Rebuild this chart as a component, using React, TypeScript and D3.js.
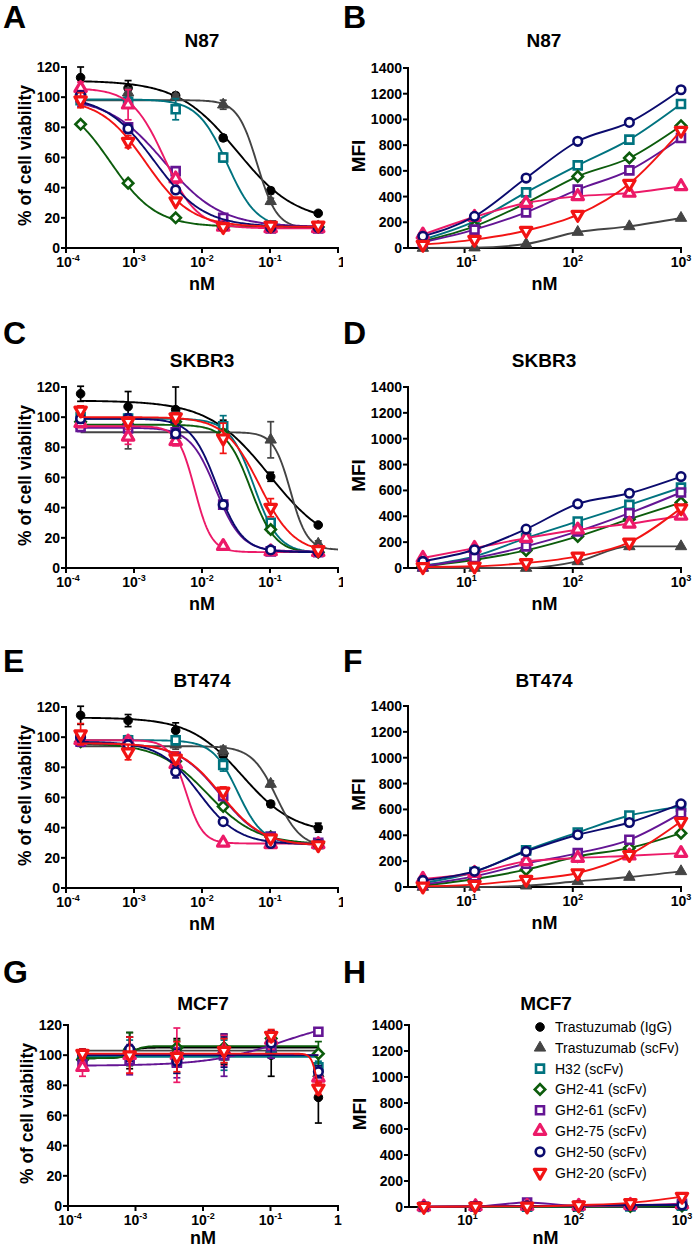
import React from "react";
import * as d3 from "d3";

// ---------------- DATA ----------------
const SERIES_NAMES = [
  "Trastuzumab (IgG)",
  "Trastuzumab (scFv)",
  "H32 (scFv)",
  "GH2-41 (scFv)",
  "GH2-61 (scFv)",
  "GH2-75 (scFv)",
  "GH2-50 (scFv)",
  "GH2-20 (scFv)",
];
const SERIES_COLORS = ["#000000", "#444444", "#00737f", "#0c5c0c", "#641594", "#ec1a68", "#0b0b6e", "#f21414"];
const SERIES_SYMBOLS = ["circleFilled", "triangleFilled", "square", "diamond", "square", "triangle", "circle", "triangleDown"];

const VIAB_CONC = [0.000164, 0.000819, 0.0041, 0.0205, 0.1024, 0.512];
const MFI_CONC = [4.115, 12.35, 37.04, 111.1, 333.3, 1000];
const VIAB_Y_TICKS = [0, 20, 40, 60, 80, 100, 120];
const MFI_Y_TICKS = [0, 200, 400, 600, 800, 1000, 1200, 1400];
const VIAB_X_TICKS = [1e-4, 1e-3, 1e-2, 1e-1, 1];
const MFI_X_TICKS = [10, 100, 1000];

// Viability means (% of cell viability), one row per series
const N87_VIAB = [
  [113, 106, 101, 73, 38, 23],
  [104, 103, 100, 95, 31, 14],
  [98, 97, 92, 60, 15, 14],
  [82, 43, 20, 14, 14, 14],
  [100, 80, 51, 20, 13, 13],
  [106, 95, 46, 14, 13, 13],
  [101, 79, 38.5, 14, 13.5, 13.5],
  [98, 70.5, 31, 14, 15, 15],
];
const N87_ERR = [
  [7, 5, 2, 2, 2, 1],
  [3, 3, 2, 3, 2, 1],
  [2, 2, 7, 3, 1, 1],
  [1, 1, 1, 1, 1, 1],
  [6, 3, 2, 1, 1, 1],
  [4, 10, 3, 1, 1, 1],
  [3, 3, 2, 1, 1, 1],
  [5, 4, 2, 1, 1, 1],
];
// fit: [start, end, ec50, hill, (xMax)]
const N87_FIT = [
  [111, 17, 0.033, 1.0],
  [98, 13, 0.065, 3],
  [98.5, 13, 0.0235, 2],
  [100, 14, 0.00045, 1.3],
  [100, 14, 0.0028, 1.05],
  [106, 13, 0.0028, 1.8],
  [101, 14, 0.002, 1.2],
  [99, 14, 0.0015, 1.3],
];

const SKBR3_VIAB = [
  [115.5, 107, 105, 93, 60.5, 28.5],
  [95, 88, 88, 90, 85, 16],
  [100, 99, 100, 94, 30, 11],
  [97, 95, 97, 89, 25.5, 10.5],
  [93.5, 92.5, 90, 42, 11, 10.5],
  [96, 87, 84, 14.5, 11, 10.5],
  [99, 99, 89, 42, 12, 10.5],
  [104.5, 97, 100, 86, 40, 12],
];
const SKBR3_ERR = [
  [5, 10, 15, 5, 3, 1],
  [3, 9, 3, 2, 12, 2],
  [3, 3, 3, 7, 2, 1],
  [2, 2, 3, 3, 2, 1],
  [3, 3, 3, 2, 1, 1],
  [3, 5, 3, 2, 1, 1],
  [3, 3, 3, 2, 1, 1],
  [3, 3, 3, 10, 6, 2],
];
const SKBR3_FIT = [
  [111, 12, 0.098, 0.97],
  [90, 12, 0.2, 3.5, 1],
  [99, 10, 0.058, 2.4],
  [95, 10, 0.052, 2.4],
  [93, 11, 0.016, 2.3],
  [94, 10.5, 0.0078, 3.5],
  [99, 10.5, 0.0165, 2.3],
  [100, 10, 0.07, 1.7],
];

const BT474_VIAB = [
  [114.5, 111, 104.5, 88, 55.7, 40],
  [97, 95, 95, 91, 69, 29],
  [100, 98, 98, 81.5, 34, 29],
  [97, 94, 84, 54, 34, 29.5],
  [97, 96, 87, 61, 34, 30],
  [98, 97, 82, 30, 29, 29],
  [100, 95, 77, 44, 29.5, 29],
  [102, 90, 86, 64, 33, 28.5],
];
const BT474_ERR = [
  [6, 4, 5, 3, 2, 3],
  [3, 3, 3, 3, 2, 2],
  [3, 3, 3, 4, 2, 1],
  [3, 3, 3, 2, 1, 1],
  [3, 3, 3, 3, 1, 1],
  [3, 3, 3, 2, 1, 1],
  [3, 3, 4, 2, 1, 1],
  [7, 5, 4, 3, 2, 1],
];
const BT474_FIT = [
  [113, 36, 0.039, 1.13],
  [94, 27, 0.124, 2.4],
  [98, 29, 0.0336, 2.34],
  [96, 29, 0.012, 1.2],
  [96, 28, 0.0185, 1.4],
  [98, 29.5, 0.0058, 3.5],
  [97, 29, 0.009, 1.5],
  [96, 28, 0.019, 1.4],
];

const MCF7_VIAB = [
  [98, 103, 103, 104, 100, 72],
  [100, 104, 103, 103, 104, 88],
  [100, 102, 96, 100, 105, 92],
  [97, 104, 105, 105, 111, 101],
  [94, 97, 95, 100, 106, 115.5],
  [92, 100, 100, 103, 110, 85],
  [101, 104, 96, 102, 108, 89],
  [101, 100, 99, 103, 113, 78],
];
const MCF7_ERR = [
  [3, 12, 8, 10, 14, 17],
  [2, 8, 6, 8, 6, 6],
  [3, 8, 8, 10, 6, 4],
  [3, 11, 5, 8, 5, 8],
  [4, 10, 10, 14, 8, 2],
  [6, 12, 18, 10, 6, 4],
  [3, 8, 8, 10, 8, 4],
  [3, 12, 10, 8, 4, 4],
];
const MCF7_FIT = [
  [98, 105, 0.0008, 6],
  [103, 103, 0.01, 1],
  [99, 99, 0.01, 1],
  [98, 106, 0.0009, 6],
  [93, 125, 0.15, 0.8],
  [100, 100, 0.01, 1],
  [100, 100, 0.01, 1],
  [101, 60, 0.5, 10],
];

// MFI (null = not plotted)
const N87_MFI = [
  null,
  [0, 3, 31, 124, 168, 233],
  [65, 207, 433, 643, 843, 1120],
  [52, 168, 350, 557, 700, 951],
  [44, 143, 277, 454, 604, 856],
  [104, 241, 350, 402, 428, 480],
  [91, 246, 544, 830, 977, 1231],
  [26, 65, 135, 259, 500, 913],
];
const SKBR3_MFI = [
  null,
  [0, 0, 0, 51, 167, 167],
  [18, 90, 231, 360, 488, 622],
  [13, 64, 136, 244, 378, 506],
  [13, 77, 167, 283, 424, 584],
  [77, 154, 231, 296, 342, 404],
  [51, 141, 301, 496, 578, 707],
  [8, 13, 39, 90, 198, 463],
];
const BT474_MFI = [
  null,
  [0, 0, 10, 44, 77, 121],
  [31, 116, 283, 422, 553, 622],
  [10, 62, 134, 237, 301, 416],
  [18, 82, 180, 262, 365, 571],
  [62, 108, 198, 224, 242, 262],
  [51, 121, 275, 404, 499, 643],
  [5, 18, 57, 108, 249, 506],
];
const MCF7_MFI = [
  null,
  [0, 0, 0, 0, 2, 5],
  [0, 2, 3, 5, 5, 10],
  [0, 2, 3, 3, 5, 8],
  [2, 5, 35, 10, 12, 25],
  [2, 5, 8, 8, 15, 20],
  [3, 5, 8, 10, 15, 15],
  [2, 4, 5, 15, 32, 80],
];

// ---------------- LAYOUT ----------------
const FONT = "'Liberation Sans', Arial, Helvetica, sans-serif";

type Layout = {
  letter: string; title: string; lx: number; ly: number; tx: number; ty: number;
  x0: number; x1: number; yTop: number; yBottom: number; tickGap: number; nmGap: number;
};

const L_A: Layout = { letter: "A", title: "N87", lx: 3, ly: 28, tx: 202, ty: 47, x0: 66, x1: 338, yTop: 67, yBottom: 248, tickGap: 19, nmGap: 42 };
const L_B: Layout = { letter: "B", title: "N87", lx: 343, ly: 28, tx: 544, ty: 47, x0: 408, x1: 681, yTop: 68, yBottom: 248, tickGap: 19, nmGap: 42 };
const L_C: Layout = { letter: "C", title: "SKBR3", lx: 3, ly: 344, tx: 202, ty: 367, x0: 66, x1: 338, yTop: 387, yBottom: 568, tickGap: 19, nmGap: 42 };
const L_D: Layout = { letter: "D", title: "SKBR3", lx: 343, ly: 344, tx: 544, ty: 367, x0: 408, x1: 681, yTop: 387, yBottom: 568, tickGap: 19, nmGap: 42 };
const L_E: Layout = { letter: "E", title: "BT474", lx: 3, ly: 672, tx: 202, ty: 687, x0: 66, x1: 338, yTop: 707, yBottom: 888, tickGap: 19, nmGap: 42 };
const L_F: Layout = { letter: "F", title: "BT474", lx: 343, ly: 672, tx: 544, ty: 687, x0: 408, x1: 681, yTop: 706, yBottom: 887, tickGap: 19, nmGap: 42 };
const L_G: Layout = { letter: "G", title: "MCF7", lx: 3, ly: 983, tx: 203, ty: 1010, x0: 68, x1: 338, yTop: 1025, yBottom: 1206, tickGap: 19, nmGap: 38 };
const L_H: Layout = { letter: "H", title: "MCF7", lx: 343, ly: 983, tx: 546, ty: 1010, x0: 409, x1: 682, yTop: 1025, yBottom: 1207, tickGap: 18, nmGap: 37 };

// ---------------- MARKERS ----------------
const symCircle = d3.symbol().type(d3.symbolCircle).size(58)() as string;
const symTriangle = d3.symbol().type(d3.symbolTriangle).size(56)() as string;
const symSquare = d3.symbol().type(d3.symbolSquare).size(64)() as string;
const symDiamond = d3.symbol().type(d3.symbolSquare).size(54)() as string;

function Marker({ kind, color, x, y }: { kind: string; color: string; x: number; y: number }) {
  const t = `translate(${x},${y})`;
  switch (kind) {
    case "circleFilled":
      return <path d={symCircle} transform={t} fill={color} stroke={color} strokeWidth={1} />;
    case "triangleFilled":
      return <path d={symTriangle} transform={t} fill={color} stroke={color} strokeWidth={1} />;
    case "square":
      return <path d={symSquare} transform={t} fill="#fff" stroke={color} strokeWidth={2.6} />;
    case "diamond":
      return <path d={symDiamond} transform={`${t} rotate(45)`} fill="#fff" stroke={color} strokeWidth={2.6} />;
    case "triangle":
      return <path d={symTriangle} transform={t} fill="#fff" stroke={color} strokeWidth={3.2} strokeLinejoin="round" />;
    case "triangleDown":
      return <path d={symTriangle} transform={`${t} rotate(180)`} fill="#fff" stroke={color} strokeWidth={3.2} strokeLinejoin="round" />;
    case "circle":
    default:
      return <path d={symCircle} transform={t} fill="#fff" stroke={color} strokeWidth={2.6} />;
  }
}

// ---------------- AXES ----------------
function XTickLabel({ x, y, value, plainOne, clipLast }: { x: number; y: number; value: number; plainOne?: boolean; clipLast?: boolean }) {
  const e = Math.round(Math.log10(value));
  if (plainOne && e === 0) {
    return <text x={x} y={y} textAnchor="middle" fontSize={14} fontWeight="bold" fontFamily={FONT}>1</text>;
  }
  return (
    <text x={x} y={y} textAnchor={clipLast ? "start" : "middle"} fontSize={14} fontWeight="bold" fontFamily={FONT}>
      <tspan>10</tspan>
      <tspan dy={-6} fontSize={9}>{e}</tspan>
    </text>
  );
}

function Frame({ L, xScale, yScale, xTicks, yTicks, yLabel, plainOne, lastStart }: any) {
  const isMfi = yLabel === "MFI";
  return (
    <g>
      <text x={L.lx} y={L.ly} fontSize={32} fontWeight="bold" fontFamily={FONT}>{L.letter}</text>
      <text x={L.tx} y={L.ty} textAnchor="middle" fontSize={19} fontWeight="bold" fontFamily={FONT}>{L.title}</text>
      {/* y axis */}
      <line x1={L.x0} x2={L.x0} y1={L.yTop - 1} y2={L.yBottom + 1} stroke="#000" strokeWidth={2} />
      {yTicks.map((t: number) => (
        <g key={"y" + t}>
          <line x1={L.x0 - 5} x2={L.x0} y1={yScale(t)} y2={yScale(t)} stroke="#000" strokeWidth={2} />
          <text x={L.x0 - 6} y={yScale(t) + 5} textAnchor="end" fontSize={14} fontWeight="bold" fontFamily={FONT}>{t}</text>
        </g>
      ))}
      {/* x axis */}
      <line x1={L.x0 - 1} x2={L.x1 + 1} y1={L.yBottom} y2={L.yBottom} stroke="#000" strokeWidth={2} />
      {xTicks.map((t: number, i: number) => (
        <g key={"x" + t}>
          <line x1={xScale(t)} x2={xScale(t)} y1={L.yBottom} y2={L.yBottom + 5} stroke="#000" strokeWidth={2} />
          <XTickLabel x={xScale(t) + (i === 0 ? 2 : 0)} y={L.yBottom + L.tickGap} value={t} plainOne={plainOne}
            clipLast={lastStart && i === xTicks.length - 1} />
        </g>
      ))}
      <text x={(L.x0 + L.x1) / 2} y={L.yBottom + L.nmGap} textAnchor="middle" fontSize={18} fontWeight="bold" fontFamily={FONT}>nM</text>
      <text transform={`translate(${L.x0 - (isMfi ? 43 : 35)},${(L.yTop + L.yBottom) / 2 - 2}) rotate(-90)`} textAnchor="middle"
        fontSize={isMfi ? 19 : 17.5} fontWeight="bold" fontFamily={FONT}>{yLabel}</text>
    </g>
  );
}

function ViabilityPanel({ L, values, errs, fits, plainOne }: any) {
  const x = d3.scaleLog().domain([1e-4, 1]).range([L.x0, L.x1]);
  const y = d3.scaleLinear().domain([0, 120]).range([L.yBottom, L.yTop]);
  const line = d3.line<[number, number]>().x((d) => x(d[0])).y((d) => y(d[1]));
  const lo = Math.log10(VIAB_CONC[0]);
  return (
    <g>
      <Frame L={L} xScale={x} yScale={y} xTicks={VIAB_X_TICKS} yTicks={VIAB_Y_TICKS} yLabel="% of cell viability"
        plainOne={plainOne} lastStart={!plainOne} />
      {values.map((vals: number[], si: number) => {
        const [a, b, c, h, xmax] = fits[si];
        const hi = Math.log10(xmax || VIAB_CONC[VIAB_CONC.length - 1]);
        const pts: [number, number][] = d3.range(0, 161).map((i) => {
          const xv = Math.pow(10, lo + ((hi - lo) * i) / 160);
          const r = Math.pow(xv / c, h);
          return [xv, a + ((b - a) * r) / (1 + r)];
        });
        const col = SERIES_COLORS[si];
        return (
          <g key={si}>
            <path d={line(pts) as string} fill="none" stroke={col} strokeWidth={1.9} />
            {vals.map((v, i) => {
              const e = errs[si][i];
              const cx = x(VIAB_CONC[i]);
              return (
                <g key={i}>
                  <line x1={cx} x2={cx} y1={y(v - e)} y2={y(v + e)} stroke={col} strokeWidth={1.7} />
                  <line x1={cx - 3.5} x2={cx + 3.5} y1={y(v + e)} y2={y(v + e)} stroke={col} strokeWidth={1.7} />
                  <line x1={cx - 3.5} x2={cx + 3.5} y1={y(v - e)} y2={y(v - e)} stroke={col} strokeWidth={1.7} />
                </g>
              );
            })}
            {vals.map((v, i) => (
              <Marker key={"m" + i} kind={SERIES_SYMBOLS[si]} color={col} x={x(VIAB_CONC[i])} y={y(v)} />
            ))}
          </g>
        );
      })}
    </g>
  );
}

function MfiPanel({ L, values, legend }: any) {
  const x = d3.scaleLog().domain([3, 1000]).range([L.x0, L.x1]);
  const y = d3.scaleLinear().domain([0, 1400]).range([L.yBottom, L.yTop]);
  const line = d3.line<number>().x((_d, i) => x(MFI_CONC[i])).y((d) => y(d)).curve(d3.curveMonotoneX);
  return (
    <g>
      <Frame L={L} xScale={x} yScale={y} xTicks={MFI_X_TICKS} yTicks={MFI_Y_TICKS} yLabel="MFI" />
      {legend && (
        <g>
          {SERIES_NAMES.map((n, i) => {
            const ry = 1027 + i * 20.8;
            return (
              <g key={n}>
                <Marker kind={SERIES_SYMBOLS[i]} color={SERIES_COLORS[i]} x={540} y={ry} />
                <text x={555} y={ry + 5} fontSize={14} fontFamily={FONT}>{n}</text>
              </g>
            );
          })}
        </g>
      )}
      {values.map((vals: number[] | null, si: number) => {
        if (!vals) return null;
        const col = SERIES_COLORS[si];
        return (
          <g key={si}>
            <path d={line(vals) as string} fill="none" stroke={col} strokeWidth={1.9} />
            {vals.map((v, i) => (
              <Marker key={i} kind={SERIES_SYMBOLS[si]} color={col} x={x(MFI_CONC[i])} y={y(v)} />
            ))}
          </g>
        );
      })}
    </g>
  );
}

export default function App() {
  return (
    <svg width={697} height={1250} viewBox="0 0 697 1250"
      style={{ position: "absolute", left: 0, top: 0, background: "#fff" }}>
      <defs>
        <clipPath id="leftClip"><rect x={0} y={0} width={343} height={1250} /></clipPath>
      </defs>
      <rect x={0} y={0} width={697} height={1250} fill="#fff" />
      <g clipPath="url(#leftClip)">
        <ViabilityPanel L={L_A} values={N87_VIAB} errs={N87_ERR} fits={N87_FIT} />
        <ViabilityPanel L={L_C} values={SKBR3_VIAB} errs={SKBR3_ERR} fits={SKBR3_FIT} />
        <ViabilityPanel L={L_E} values={BT474_VIAB} errs={BT474_ERR} fits={BT474_FIT} />
        <ViabilityPanel L={L_G} values={MCF7_VIAB} errs={MCF7_ERR} fits={MCF7_FIT} plainOne />
      </g>
      <MfiPanel L={L_B} values={N87_MFI} />
      <MfiPanel L={L_D} values={SKBR3_MFI} />
      <MfiPanel L={L_F} values={BT474_MFI} />
      <MfiPanel L={L_H} values={MCF7_MFI} legend />
    </svg>
  );
}
